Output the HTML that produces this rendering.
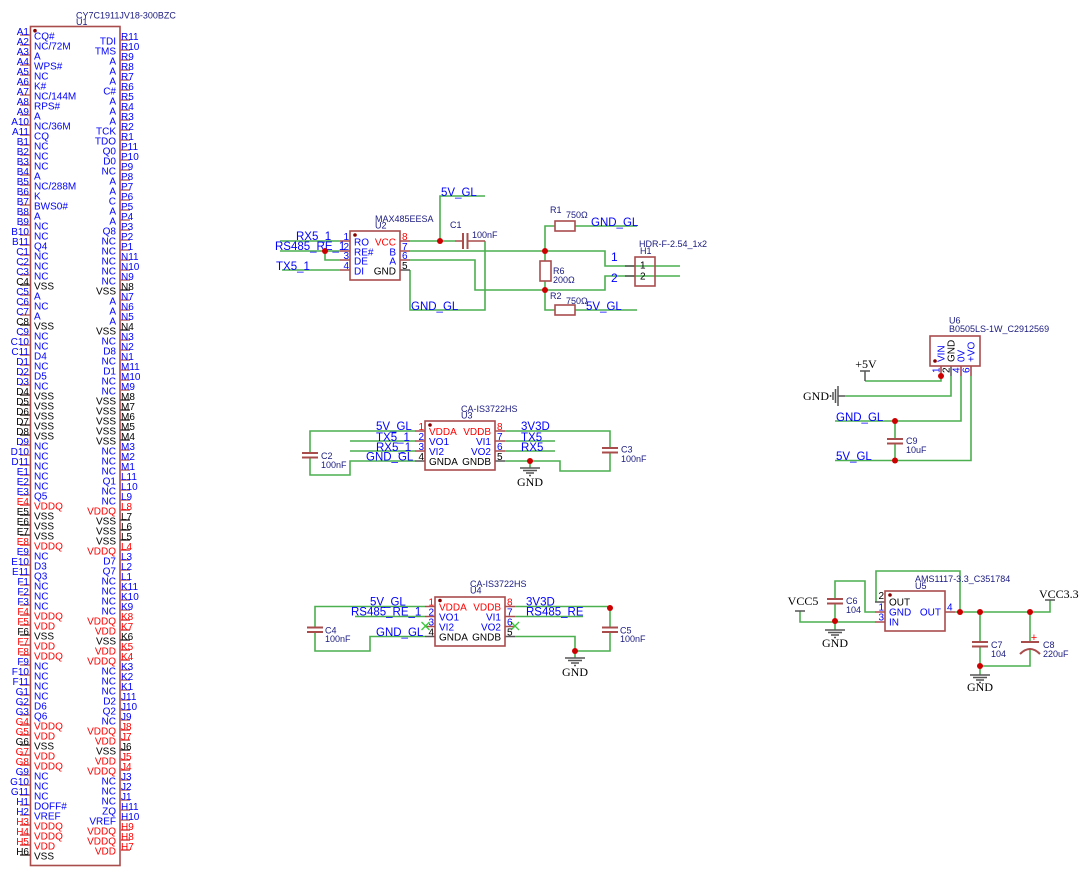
<!DOCTYPE html>
<html><head><meta charset="utf-8">
<style>
html,body{margin:0;padding:0;background:#fff;}
svg{display:block;}
text{font-family:"Liberation Sans",sans-serif;}
.p{font-size:10px;}
.b{fill:#0000ff;}
.r{fill:#ff0000;}
.k{fill:#000;}
.n{font-size:9px;fill:#1a1a80;}
.nl{font-size:11.5px;fill:#0000ff;}
.s{font-family:"Liberation Serif",serif;font-size:12px;fill:#000;}
.w{fill:none;stroke:#4caf50;stroke-width:1.6;}
.c{fill:none;stroke:#a94c4c;stroke-width:1.6;}
.cp{fill:none;stroke:#a94c4c;stroke-width:2;}
.g{fill:none;stroke:#555;stroke-width:1.5;}
.rp{fill:none;stroke:#e06060;stroke-width:1.6;}
</style></head><body>
<svg width="1088" height="876" viewBox="0 0 1088 876" xmlns="http://www.w3.org/2000/svg">
<rect width="1088" height="876" fill="#fff"/>

<!-- ================= U1 ================= -->
<text class="n" x="76" y="18.5">CY7C1911JV18-300BZC</text>
<text class="n" x="76" y="25">U1</text>
<rect x="30.5" y="26.5" width="89.5" height="839" class="c"/>
<circle cx="35" cy="30.7" r="1.8" fill="#800"/>
<line x1="25" y1="34.2" x2="25" y2="856" stroke="#b86a6a" stroke-width="10" stroke-dasharray="1.6 8.4"/>
<line x1="125" y1="39.2" x2="125" y2="851" stroke="#b86a6a" stroke-width="10" stroke-dasharray="1.6 8.4"/>
<path class="g" d="M20 285h10M20 325h10M20 395h10M20 405h10M20 415h10M20 425h10M20 435h10M20 515h10M20 525h10M20 535h10M20 635h10M20 745h10M20 855h10M120 290h10M120 330h10M120 400h10M120 410h10M120 420h10M120 430h10M120 440h10M120 520h10M120 530h10M120 540h10M120 640h10M120 750h10"/>
<path class="rp" d="M20 505h10M20 545h10M20 615h10M20 625h10M20 645h10M20 655h10M20 725h10M20 735h10M20 755h10M20 765h10M20 825h10M20 835h10M20 845h10M120 510h10M120 550h10M120 620h10M120 630h10M120 650h10M120 660h10M120 730h10M120 740h10M120 760h10M120 770h10M120 830h10M120 840h10M120 850h10"/>

<g class="p b" text-anchor="end">
<text x="29" y="35">A1</text><text x="29" y="45">A2</text><text x="29" y="55">A3</text><text x="29" y="65">A4</text><text x="29" y="75">A5</text><text x="29" y="85">A6</text><text x="29" y="95">A7</text><text x="29" y="105">A8</text><text x="29" y="115">A9</text><text x="29" y="125">A10</text><text x="29" y="135">A11</text>
<text x="29" y="145">B1</text><text x="29" y="155">B2</text><text x="29" y="165">B3</text><text x="29" y="175">B4</text><text x="29" y="185">B5</text><text x="29" y="195">B6</text><text x="29" y="205">B7</text><text x="29" y="215">B8</text><text x="29" y="225">B9</text><text x="29" y="235">B10</text><text x="29" y="245">B11</text>
<text x="29" y="255">C1</text><text x="29" y="265">C2</text><text x="29" y="275">C3</text><text x="29" y="285" class="k">C4</text><text x="29" y="295">C5</text><text x="29" y="305">C6</text><text x="29" y="315">C7</text><text x="29" y="325" class="k">C8</text><text x="29" y="335">C9</text><text x="29" y="345">C10</text><text x="29" y="355">C11</text>
<text x="29" y="365">D1</text><text x="29" y="375">D2</text><text x="29" y="385">D3</text><text x="29" y="395" class="k">D4</text><text x="29" y="405" class="k">D5</text><text x="29" y="415" class="k">D6</text><text x="29" y="425" class="k">D7</text><text x="29" y="435" class="k">D8</text><text x="29" y="445">D9</text><text x="29" y="455">D10</text><text x="29" y="465">D11</text>
<text x="29" y="475">E1</text><text x="29" y="485">E2</text><text x="29" y="495">E3</text><text x="29" y="505" class="r">E4</text><text x="29" y="515" class="k">E5</text><text x="29" y="525" class="k">E6</text><text x="29" y="535" class="k">E7</text><text x="29" y="545" class="r">E8</text><text x="29" y="555">E9</text><text x="29" y="565">E10</text><text x="29" y="575">E11</text>
<text x="29" y="585">F1</text><text x="29" y="595">F2</text><text x="29" y="605">F3</text><text x="29" y="615" class="r">F4</text><text x="29" y="625" class="r">F5</text><text x="29" y="635" class="k">F6</text><text x="29" y="645" class="r">F7</text><text x="29" y="655" class="r">F8</text><text x="29" y="665">F9</text><text x="29" y="675">F10</text><text x="29" y="685">F11</text>
<text x="29" y="695">G1</text><text x="29" y="705">G2</text><text x="29" y="715">G3</text><text x="29" y="725" class="r">G4</text><text x="29" y="735" class="r">G5</text><text x="29" y="745" class="k">G6</text><text x="29" y="755" class="r">G7</text><text x="29" y="765" class="r">G8</text><text x="29" y="775">G9</text><text x="29" y="785">G10</text><text x="29" y="795">G11</text>
<text x="29" y="805">H1</text><text x="29" y="815">H2</text><text x="29" y="825" class="r">H3</text><text x="29" y="835" class="r">H4</text><text x="29" y="845" class="r">H5</text><text x="29" y="855" class="k">H6</text>
</g>

<g class="p b">
<text x="34" y="39.5">CQ#</text><text x="34" y="49.5">NC/72M</text><text x="34" y="59.5">A</text><text x="34" y="69.5">WPS#</text><text x="34" y="79.5">NC</text><text x="34" y="89.5">K#</text><text x="34" y="99.5">NC/144M</text><text x="34" y="109.5">RPS#</text><text x="34" y="119.5">A</text><text x="34" y="129.5">NC/36M</text><text x="34" y="139.5">CQ</text>
<text x="34" y="149.5">NC</text><text x="34" y="159.5">NC</text><text x="34" y="169.5">NC</text><text x="34" y="179.5">A</text><text x="34" y="189.5">NC/288M</text><text x="34" y="199.5">K</text><text x="34" y="209.5">BWS0#</text><text x="34" y="219.5">A</text><text x="34" y="229.5">NC</text><text x="34" y="239.5">NC</text><text x="34" y="249.5">Q4</text>
<text x="34" y="259.5">NC</text><text x="34" y="269.5">NC</text><text x="34" y="279.5">NC</text><text x="34" y="289.5" class="k">VSS</text><text x="34" y="299.5">A</text><text x="34" y="309.5">NC</text><text x="34" y="319.5">A</text><text x="34" y="329.5" class="k">VSS</text><text x="34" y="339.5">NC</text><text x="34" y="349.5">NC</text><text x="34" y="359.5">D4</text>
<text x="34" y="369.5">NC</text><text x="34" y="379.5">D5</text><text x="34" y="389.5">NC</text><text x="34" y="399.5" class="k">VSS</text><text x="34" y="409.5" class="k">VSS</text><text x="34" y="419.5" class="k">VSS</text><text x="34" y="429.5" class="k">VSS</text><text x="34" y="439.5" class="k">VSS</text><text x="34" y="449.5">NC</text><text x="34" y="459.5">NC</text><text x="34" y="469.5">NC</text>
<text x="34" y="479.5">NC</text><text x="34" y="489.5">NC</text><text x="34" y="499.5">Q5</text><text x="34" y="509.5" class="r">VDDQ</text><text x="34" y="519.5" class="k">VSS</text><text x="34" y="529.5" class="k">VSS</text><text x="34" y="539.5" class="k">VSS</text><text x="34" y="549.5" class="r">VDDQ</text><text x="34" y="559.5">NC</text><text x="34" y="569.5">D3</text><text x="34" y="579.5">Q3</text>
<text x="34" y="589.5">NC</text><text x="34" y="599.5">NC</text><text x="34" y="609.5">NC</text><text x="34" y="619.5" class="r">VDDQ</text><text x="34" y="629.5" class="r">VDD</text><text x="34" y="639.5" class="k">VSS</text><text x="34" y="649.5" class="r">VDD</text><text x="34" y="659.5" class="r">VDDQ</text><text x="34" y="669.5">NC</text><text x="34" y="679.5">NC</text><text x="34" y="689.5">NC</text>
<text x="34" y="699.5">NC</text><text x="34" y="709.5">D6</text><text x="34" y="719.5">Q6</text><text x="34" y="729.5" class="r">VDDQ</text><text x="34" y="739.5" class="r">VDD</text><text x="34" y="749.5" class="k">VSS</text><text x="34" y="759.5" class="r">VDD</text><text x="34" y="769.5" class="r">VDDQ</text><text x="34" y="779.5">NC</text><text x="34" y="789.5">NC</text><text x="34" y="799.5">NC</text>
<text x="34" y="809.5">DOFF#</text><text x="34" y="819.5">VREF</text><text x="34" y="829.5" class="r">VDDQ</text><text x="34" y="839.5" class="r">VDDQ</text><text x="34" y="849.5" class="r">VDD</text><text x="34" y="859.5" class="k">VSS</text>
</g>

<g class="p b">
<text x="121" y="40">R11</text><text x="121" y="50">R10</text><text x="121" y="60">R9</text><text x="121" y="70">R8</text><text x="121" y="80">R7</text><text x="121" y="90">R6</text><text x="121" y="100">R5</text><text x="121" y="110">R4</text><text x="121" y="120">R3</text><text x="121" y="130">R2</text><text x="121" y="140">R1</text>
<text x="121" y="150">P11</text><text x="121" y="160">P10</text><text x="121" y="170">P9</text><text x="121" y="180">P8</text><text x="121" y="190">P7</text><text x="121" y="200">P6</text><text x="121" y="210">P5</text><text x="121" y="220">P4</text><text x="121" y="230">P3</text><text x="121" y="240">P2</text><text x="121" y="250">P1</text>
<text x="121" y="260">N11</text><text x="121" y="270">N10</text><text x="121" y="280">N9</text><text x="121" y="290" class="k">N8</text><text x="121" y="300">N7</text><text x="121" y="310">N6</text><text x="121" y="320">N5</text><text x="121" y="330" class="k">N4</text><text x="121" y="340">N3</text><text x="121" y="350">N2</text><text x="121" y="360">N1</text>
<text x="121" y="370">M11</text><text x="121" y="380">M10</text><text x="121" y="390">M9</text><text x="121" y="400" class="k">M8</text><text x="121" y="410" class="k">M7</text><text x="121" y="420" class="k">M6</text><text x="121" y="430" class="k">M5</text><text x="121" y="440" class="k">M4</text><text x="121" y="450">M3</text><text x="121" y="460">M2</text><text x="121" y="470">M1</text>
<text x="121" y="480">L11</text><text x="121" y="490">L10</text><text x="121" y="500">L9</text><text x="121" y="510" class="r">L8</text><text x="121" y="520" class="k">L7</text><text x="121" y="530" class="k">L6</text><text x="121" y="540" class="k">L5</text><text x="121" y="550" class="r">L4</text><text x="121" y="560">L3</text><text x="121" y="570">L2</text><text x="121" y="580">L1</text>
<text x="121" y="590">K11</text><text x="121" y="600">K10</text><text x="121" y="610">K9</text><text x="121" y="620" class="r">K8</text><text x="121" y="630" class="r">K7</text><text x="121" y="640" class="k">K6</text><text x="121" y="650" class="r">K5</text><text x="121" y="660" class="r">K4</text><text x="121" y="670">K3</text><text x="121" y="680">K2</text><text x="121" y="690">K1</text>
<text x="121" y="700">J11</text><text x="121" y="710">J10</text><text x="121" y="720">J9</text><text x="121" y="730" class="r">J8</text><text x="121" y="740" class="r">J7</text><text x="121" y="750" class="k">J6</text><text x="121" y="760" class="r">J5</text><text x="121" y="770" class="r">J4</text><text x="121" y="780">J3</text><text x="121" y="790">J2</text><text x="121" y="800">J1</text>
<text x="121" y="810">H11</text><text x="121" y="820">H10</text><text x="121" y="830" class="r">H9</text><text x="121" y="840" class="r">H8</text><text x="121" y="850" class="r">H7</text>
</g>

<g class="p b" text-anchor="end">
<text x="116" y="44.5">TDI</text><text x="116" y="54.5">TMS</text><text x="116" y="64.5">A</text><text x="116" y="74.5">A</text><text x="116" y="84.5">A</text><text x="116" y="94.5">C#</text><text x="116" y="104.5">A</text><text x="116" y="114.5">A</text><text x="116" y="124.5">A</text><text x="116" y="134.5">TCK</text><text x="116" y="144.5">TDO</text>
<text x="116" y="154.5">Q0</text><text x="116" y="164.5">D0</text><text x="116" y="174.5">NC</text><text x="116" y="184.5">A</text><text x="116" y="194.5">A</text><text x="116" y="204.5">C</text><text x="116" y="214.5">A</text><text x="116" y="224.5">A</text><text x="116" y="234.5">Q8</text><text x="116" y="244.5">NC</text><text x="116" y="254.5">NC</text>
<text x="116" y="264.5">NC</text><text x="116" y="274.5">NC</text><text x="116" y="284.5">NC</text><text x="116" y="294.5" class="k">VSS</text><text x="116" y="304.5">A</text><text x="116" y="314.5">A</text><text x="116" y="324.5">A</text><text x="116" y="334.5" class="k">VSS</text><text x="116" y="344.5">NC</text><text x="116" y="354.5">D8</text><text x="116" y="364.5">NC</text>
<text x="116" y="374.5">D1</text><text x="116" y="384.5">NC</text><text x="116" y="394.5">NC</text><text x="116" y="404.5" class="k">VSS</text><text x="116" y="414.5" class="k">VSS</text><text x="116" y="424.5" class="k">VSS</text><text x="116" y="434.5" class="k">VSS</text><text x="116" y="444.5" class="k">VSS</text><text x="116" y="454.5">NC</text><text x="116" y="464.5">NC</text><text x="116" y="474.5">NC</text>
<text x="116" y="484.5">Q1</text><text x="116" y="494.5">NC</text><text x="116" y="504.5">NC</text><text x="116" y="514.5" class="r">VDDQ</text><text x="116" y="524.5" class="k">VSS</text><text x="116" y="534.5" class="k">VSS</text><text x="116" y="544.5" class="k">VSS</text><text x="116" y="554.5" class="r">VDDQ</text><text x="116" y="564.5">D7</text><text x="116" y="574.5">Q7</text><text x="116" y="584.5">NC</text>
<text x="116" y="594.5">NC</text><text x="116" y="604.5">NC</text><text x="116" y="614.5">NC</text><text x="116" y="624.5" class="r">VDDQ</text><text x="116" y="634.5" class="r">VDD</text><text x="116" y="644.5" class="k">VSS</text><text x="116" y="654.5" class="r">VDD</text><text x="116" y="664.5" class="r">VDDQ</text><text x="116" y="674.5">NC</text><text x="116" y="684.5">NC</text><text x="116" y="694.5">NC</text>
<text x="116" y="704.5">D2</text><text x="116" y="714.5">Q2</text><text x="116" y="724.5">NC</text><text x="116" y="734.5" class="r">VDDQ</text><text x="116" y="744.5" class="r">VDD</text><text x="116" y="754.5" class="k">VSS</text><text x="116" y="764.5" class="r">VDD</text><text x="116" y="774.5" class="r">VDDQ</text><text x="116" y="784.5">NC</text><text x="116" y="794.5">NC</text><text x="116" y="804.5">NC</text>
<text x="116" y="814.5">ZQ</text><text x="116" y="824.5">VREF</text><text x="116" y="834.5" class="r">VDDQ</text><text x="116" y="844.5" class="r">VDDQ</text><text x="116" y="854.5" class="r">VDD</text>
</g>

<!-- ================= U2 MAX485 ================= -->
<path class="w" d="M280 241H340M280 251H340M325 251V260H340M282 270H340M410 241H455M440 241V196H485M410 251H605V266H680M410 260H475V290H605V276H680M410 270V310H485V241M545 251V226H555M575 226H637M545 290V310H555M575 310H637M545 251V261M545 281V290"/>
<path class="c" d="M455 241H463M467.5 241H485M340 241h10M340 251h10M340 260h10M340 270h10M400 241h10M400 251h10M400 260h10"/>
<path class="g" d="M400 270h10"/>
<path class="cp" d="M463 233V249M467.5 233V249"/>
<rect x="350" y="231" width="50" height="49" class="c"/>
<circle cx="355" cy="235" r="1.8" fill="#800"/>
<rect x="555" y="221" width="20" height="10" class="c" fill="#fff"/>
<rect x="540" y="261" width="11" height="20" class="c" fill="#fff"/>
<rect x="555" y="305" width="20" height="10" class="c" fill="#fff"/>
<path class="g" d="M625 266h10M625 276h10"/>
<rect x="635" y="257" width="20" height="29" class="c"/>
<g class="p b">
<text x="354" y="245.5">RO</text><text x="354" y="255.5">RE#</text><text x="354" y="264.5">DE</text><text x="354" y="274.5">DI</text>
</g>
<g class="p b" text-anchor="end">
<text x="396" y="245.5" class="r">VCC</text><text x="396" y="255.5">B</text><text x="396" y="264.5">A</text><text x="396" y="274.5" class="k">GND</text>
<text x="349" y="240">1</text><text x="349" y="250">2</text><text x="349" y="259">3</text><text x="349" y="269">4</text>
</g>
<g class="p b">
<text x="402" y="240" class="r">8</text><text x="402" y="250">7</text><text x="402" y="259">6</text><text x="402" y="269" class="k">5</text>
</g>
<text class="p k" x="640" y="268.5">1</text>
<text class="p k" x="640" y="279.5">2</text>
<g class="nl">
<text x="296" y="240">RX5_1</text>
<text x="275" y="250">RS485_RE_1</text>
<text x="276" y="270">TX5_1</text>
<text x="441" y="196">5V_GL</text>
<text x="411" y="310">GND_GL</text>
<text x="591" y="226">GND_GL</text>
<text x="586" y="310">5V_GL</text>
<text x="611" y="261" font-size="12">1</text>
<text x="611" y="282" font-size="12">2</text>
</g>
<g class="n">
<text x="375" y="222">MAX485EESA</text><text x="375" y="228.5">U2</text>
<text x="450" y="228">C1</text><text x="472" y="238">100nF</text>
<text x="550" y="213">R1</text><text x="566" y="218">750Ω</text>
<text x="553" y="274">R6</text><text x="553" y="283">200Ω</text>
<text x="550" y="299">R2</text><text x="566" y="304">750Ω</text>
<text x="639" y="247">HDR-F-2.54_1x2</text><text x="640" y="254">H1</text>
</g>

<!-- ================= U3 ================= -->
<path class="w" d="M415 431H310V453M310 457.5V475H350V461H415M350 441H415M350 451H415M505 431H610V448M610 452.5V471H560V461H505M505 441H555M505 451H555M530 461V468"/>
<path class="cp" d="M302 453H318M302 457.5H318M602 448H618M602 452.5H618"/>
<path class="c" d="M415 431h10M415 441h10M415 451h10M495 431h10M495 441h10M495 451h10"/>
<path class="g" d="M415 461h10M495 461h10"/>
<rect x="425" y="421" width="70" height="49" class="c"/>
<circle cx="430" cy="425" r="1.8" fill="#800"/>
<g class="p b">
<text x="429" y="435" class="r">VDDA</text><text x="429" y="445">VO1</text><text x="429" y="455">VI2</text><text x="429" y="465" class="k">GNDA</text>
<text x="497" y="430" class="r">8</text><text x="497" y="440">7</text><text x="497" y="450">6</text><text x="497" y="460" class="k">5</text>
</g>
<g class="p b" text-anchor="end">
<text x="491" y="435" class="r">VDDB</text><text x="491" y="445">VI1</text><text x="491" y="455">VO2</text><text x="491" y="465" class="k">GNDB</text>
<text x="424" y="430" class="r">1</text><text x="424" y="440">2</text><text x="424" y="450">3</text><text x="424" y="460" class="k">4</text>
</g>
<g class="nl">
<text x="376" y="430">5V_GL</text><text x="376" y="441">TX5_1</text><text x="376" y="451">RX5_1</text><text x="366" y="460.5">GND_GL</text>
<text x="521" y="430">3V3D</text><text x="521" y="441">TX5</text><text x="521" y="451">RX5</text>
</g>
<g class="n">
<text x="461" y="412">CA-IS3722HS</text><text x="461" y="418.5">U3</text>
<text x="321" y="459">C2</text><text x="321" y="468">100nF</text>
<text x="621" y="452.5">C3</text><text x="621" y="462">100nF</text>
</g>
<path class="g" d="M520 468h20M523 470.5h14M526 473h8M529 475.5h2"/>
<text class="s" x="530" y="486" text-anchor="middle">GND</text>

<!-- ================= U4 ================= -->
<path class="w" d="M425 606.5H315V627.5M315 632V651H370V636.5H425M355 616.5H425M515 606.5H610V627.5M610 632V651H575M515 636.5H575V658M515 616.5H583"/>
<path class="cp" d="M307 627.5H323M307 632H323M602 627.5H618M602 632H618"/>
<path class="c" d="M425 606.5h10M425 616.5h10M425 626.5h10M505 606.5h10M505 616.5h10M505 626.5h10"/>
<path class="g" d="M425 636.5h10M505 636.5h10"/>
<path d="M421.5 622l8 8M429.5 622l-8 8M511 622l8 8M519 622l-8 8" stroke="#3cc83c" stroke-width="1.3" fill="none"/>
<rect x="435" y="597" width="70" height="49" class="c"/>
<circle cx="440" cy="600.5" r="1.8" fill="#800"/>
<g class="p b">
<text x="439" y="610.5" class="r">VDDA</text><text x="439" y="620.5">VO1</text><text x="439" y="630.5">VI2</text><text x="439" y="640.5" class="k">GNDA</text>
<text x="507" y="605.5" class="r">8</text><text x="507" y="615.5">7</text><text x="507" y="625.5">6</text><text x="507" y="635.5" class="k">5</text>
</g>
<g class="p b" text-anchor="end">
<text x="501" y="610.5" class="r">VDDB</text><text x="501" y="620.5">VI1</text><text x="501" y="630.5">VO2</text><text x="501" y="640.5" class="k">GNDB</text>
<text x="434" y="605.5" class="r">1</text><text x="434" y="615.5">2</text><text x="434" y="625.5">3</text><text x="434" y="635.5" class="k">4</text>
</g>
<g class="nl">
<text x="370" y="605.5">5V_GL</text><text x="351" y="615.5">RS485_RE_1</text><text x="376" y="636">GND_GL</text>
<text x="526" y="605.5">3V3D</text><text x="526" y="615.5">RS485_RE</text>
</g>
<g class="n">
<text x="470" y="587">CA-IS3722HS</text><text x="470" y="593.5">U4</text>
<text x="325" y="633.5">C4</text><text x="325" y="642">100nF</text>
<text x="620" y="633.5">C5</text><text x="620" y="642">100nF</text>
</g>
<path class="g" d="M565 658h20M568 660.5h14M571 663h8M574 665.5h2"/>
<text class="s" x="575" y="676" text-anchor="middle">GND</text>

<!-- ================= U6 ================= -->
<path class="w" d="M865 381H941V376M845 396H951V376M835 421H961V376M835 460.5H971V376M895 421V439M895 443.5V460.5"/>
<path class="cp" d="M887 439H903M887 443.5H903"/>
<path class="c" d="M941 366v10M961 366v10M971 366v10"/>
<path class="g" d="M951 366v10M865 381V371M860 371h10M845 396h-7M838 386v20M835.5 389v14M833 392v8M830.5 395v2"/>
<rect x="930" y="336" width="50" height="30" class="c"/>
<circle cx="935" cy="361" r="1.8" fill="#800"/>
<g class="p">
<text class="b" transform="translate(944.5,362) rotate(-90)">VIN</text>
<text class="k" transform="translate(954.5,362) rotate(-90)">GND</text>
<text class="b" transform="translate(964.5,362) rotate(-90)">0V</text>
<text class="b" transform="translate(974.5,362) rotate(-90)">+VO</text>
<text class="b" transform="translate(939.5,373) rotate(-90)">1</text>
<text class="k" transform="translate(949.5,373) rotate(-90)">2</text>
<text class="b" transform="translate(959.5,373) rotate(-90)">4</text>
<text class="b" transform="translate(969.5,373) rotate(-90)">6</text>
</g>
<g class="nl">
<text x="836" y="421">GND_GL</text><text x="836" y="460">5V_GL</text>
</g>
<g class="n">
<text x="949" y="323.5">U6</text><text x="949" y="332">B0505LS-1W_C2912569</text>
<text x="906" y="444">C9</text><text x="906" y="453">10uF</text>
</g>
<text class="s" x="866" y="368" text-anchor="middle">+5V</text>
<text class="s" x="829" y="400" text-anchor="end">GND</text>

<!-- ================= U5 ================= -->
<path class="w" d="M876 602V571H960V612M875 612H865V581H835V599M835 603.5V621M875 622H800V611M955 612H1050V600M980 612V642M980 646.5V666M1030 612V642M1030 649V666H980M835 621V630M980 666V675"/>
<path class="cp" d="M827 599H843M827 603.5H843M972 642H988M972 646.5H988M1021 642H1039M1020 654Q1030 644 1040 654"/>
<path class="c" d="M875 612h10M875 622h10M945 612h10"/>
<path class="g" d="M875 602h10M795 611h10M1045 600h10M825 630h20M828 632.5h14M831 635h8M834 637.5h2M970 675h20M973 677.5h14M976 680h8M979 682.5h2"/>
<rect x="885" y="591" width="60" height="40" class="c"/>
<circle cx="890" cy="595" r="1.8" fill="#800"/>
<g class="p b">
<text x="889" y="605.5" class="k">OUT</text><text x="889" y="615.5">GND</text><text x="889" y="625.5">IN</text>
<text x="947" y="610.5">4</text>
</g>
<g class="p b" text-anchor="end">
<text x="941" y="615.5">OUT</text>
<text x="884" y="599" class="k">2</text><text x="884" y="610.5">1</text><text x="884" y="620.5">3</text>
</g>
<g class="n">
<text x="915" y="582">AMS1117-3.3_C351784</text><text x="915" y="589">U5</text>
<text x="846" y="604">C6</text><text x="846" y="613">104</text>
<text x="991" y="648">C7</text><text x="991" y="657">104</text>
<text x="1043" y="648">C8</text><text x="1043" y="657">220uF</text>
</g>
<text x="1034" y="641" font-size="11" fill="#f00" text-anchor="middle">+</text>
<text class="s" x="803" y="605" text-anchor="middle">VCC5</text>
<text class="s" x="1039" y="598">VCC3.3</text>
<text class="s" x="835" y="647" text-anchor="middle">GND</text>
<text class="s" x="980" y="691" text-anchor="middle">GND</text>

<!-- junctions -->
<g fill="#cc0000">
<circle cx="440" cy="241" r="3"/><circle cx="325" cy="251" r="3"/><circle cx="545" cy="251" r="3"/><circle cx="545" cy="290" r="3"/>
<circle cx="530" cy="461" r="3"/><circle cx="610" cy="608" r="3"/><circle cx="575" cy="651" r="3"/>
<circle cx="941" cy="376" r="3"/><circle cx="895" cy="421" r="3"/><circle cx="895" cy="460.5" r="3"/>
<circle cx="960" cy="612" r="3"/><circle cx="980" cy="612" r="3"/><circle cx="1030" cy="612" r="3"/><circle cx="835" cy="621" r="3"/><circle cx="980" cy="666" r="3"/>
</g>
</svg>
</body></html>
